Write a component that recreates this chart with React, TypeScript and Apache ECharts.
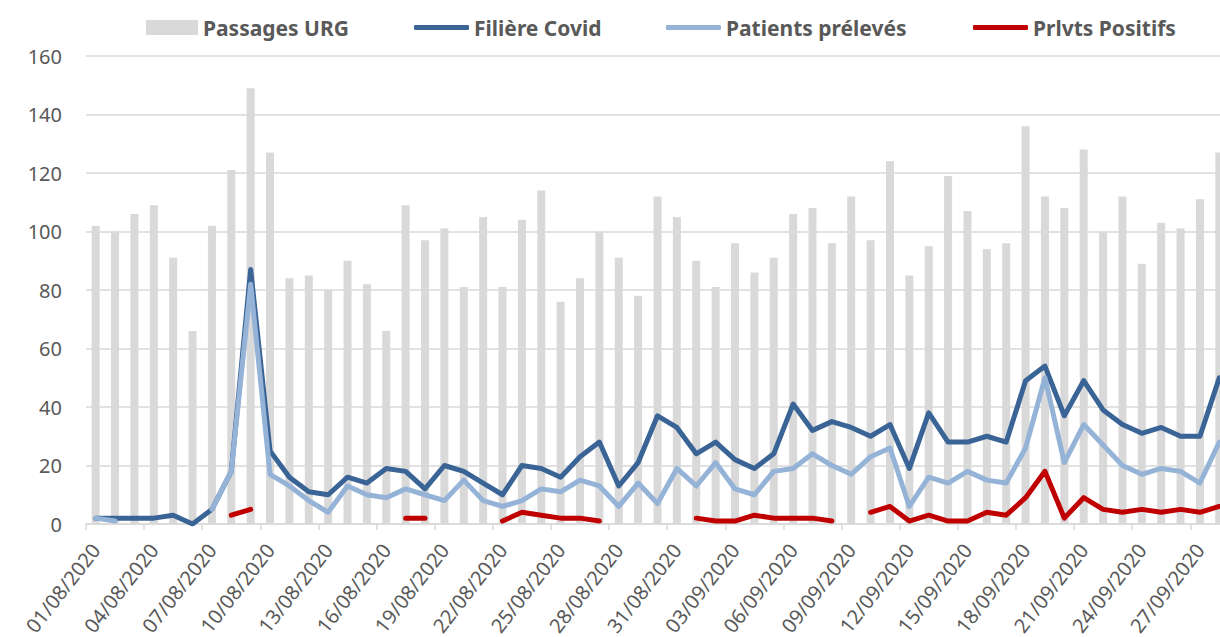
import React, { useEffect, useRef } from "react";
import * as echarts from "echarts";

const categories = [
  "01/08/2020", "02/08/2020", "03/08/2020", "04/08/2020", "05/08/2020", "06/08/2020", "07/08/2020",
  "08/08/2020", "09/08/2020", "10/08/2020", "11/08/2020", "12/08/2020", "13/08/2020", "14/08/2020",
  "15/08/2020", "16/08/2020", "17/08/2020", "18/08/2020", "19/08/2020", "20/08/2020", "21/08/2020",
  "22/08/2020", "23/08/2020", "24/08/2020", "25/08/2020", "26/08/2020", "27/08/2020", "28/08/2020",
  "29/08/2020", "30/08/2020", "31/08/2020", "01/09/2020", "02/09/2020", "03/09/2020", "04/09/2020",
  "05/09/2020", "06/09/2020", "07/09/2020", "08/09/2020", "09/09/2020", "10/09/2020", "11/09/2020",
  "12/09/2020", "13/09/2020", "14/09/2020", "15/09/2020", "16/09/2020", "17/09/2020", "18/09/2020",
  "19/09/2020", "20/09/2020", "21/09/2020", "22/09/2020", "23/09/2020", "24/09/2020", "25/09/2020",
  "26/09/2020", "27/09/2020", "28/09/2020",
];

const passagesURG = [
  102, 100, 106, 109, 91, 66, 102, 121, 149, 127,
  84, 85, 80, 90, 82, 66, 109, 97, 101, 81,
  105, 81, 104, 114, 76, 84, 100, 91, 78, 112,
  105, 90, 81, 96, 86, 91, 106, 108, 96, 112,
  97, 124, 85, 95, 119, 107, 94, 96, 136, 112,
  108, 128, 100, 112, 89, 103, 101, 111, 127,
];

const filiereCovid = [
  2, 2, 2, 2, 3, 0, 5, 18, 87, 25,
  16, 11, 10, 16, 14, 19, 18, 12, 20, 18,
  14, 10, 20, 19, 16, 23, 28, 13, 21, 37,
  33, 24, 28, 22, 19, 24, 41, 32, 35, 33,
  30, 34, 19, 38, 28, 28, 30, 28, 49, 54,
  37, 49, 39, 34, 31, 33, 30, 30, 50,
];

const patientsPreleves = [
  2, 1, null, null, null, null, 5, 18, 82, 17,
  13, 8, 4, 13, 10, 9, 12, 10, 8, 15,
  8, 6, 8, 12, 11, 15, 13, 6, 14, 7,
  19, 13, 21, 12, 10, 18, 19, 24, 20, 17,
  23, 26, 6, 16, 14, 18, 15, 14, 26, 50,
  21, 34, 27, 20, 17, 19, 18, 14, 28,
];

const prlvtsPositifs = [
  null, null, null, null, null, null, null, 3, 5, null,
  null, null, null, null, null, null, 2, 2, null, null,
  null, 1, 4, 3, 2, 2, 1, null, null, null,
  null, 2, 1, 1, 3, 2, 2, 2, 1, null,
  4, 6, 1, 3, 1, 1, 4, 3, 9, 18,
  2, 9, 5, 4, 5, 4, 5, 4, 6,
];

const yTicks = { min: 0, max: 160, interval: 20 };

const FONT = "'Noto Sans', 'DejaVu Sans', sans-serif";
const TEXT = "#595959";
const GRID = "#d9d9d9";

export default function App() {
  const ref = useRef<HTMLDivElement>(null);

  useEffect(() => {
    document.body.style.margin = "0";
    if (!ref.current) return;
    const chart = echarts.init(ref.current, undefined, { renderer: "svg" });

    const legendText = { color: TEXT, fontSize: 21, fontWeight: "bold" as const, fontFamily: FONT };
    const mkLegend = (name: string, left: number, color: string, isBar: boolean) => ({
      left,
      top: 12,
      itemWidth: isBar ? 52 : 55,
      itemHeight: isBar ? 15 : 5,
      itemGap: 0,
      textStyle: legendText,
      data: [{ name, icon: isBar ? "rect" : "roundRect", itemStyle: { color } }],
      selectedMode: false,
    });

    const lineSeries = (name: string, data: (number | null)[], color: string, z: number) => ({
      name,
      type: "line",
      data,
      symbol: "none",
      showSymbol: false,
      connectNulls: false,
      z,
      itemStyle: { color },
      lineStyle: { color, width: 5, cap: "round", join: "round" },
    });

    chart.setOption({
      animation: false,
      backgroundColor: "#ffffff",
      textStyle: { fontFamily: FONT },
      legend: [
        mkLegend("Passages URG", 141, GRID, true),
        mkLegend("Filière Covid", 409, "#3a6396", false),
        mkLegend("Patients prélevés", 661, "#95b3d7", false),
        mkLegend("Prlvts Positifs", 968, "#c00000", false),
      ],
      grid: {
        left: 86,
        top: 56,
        bottom: 113,
        right: -9,
        containLabel: false,
        outerBoundsMode: "none",
      },
      xAxis: {
        type: "category",
        data: categories,
        boundaryGap: true,
        axisLine: { show: true, lineStyle: { color: GRID, width: 1.5 } },
        axisTick: { show: true, interval: 2, length: 6, lineStyle: { color: GRID, width: 1.5 } },
        axisLabel: {
          interval: 2,
          rotate: 52,
          margin: 22,
          color: TEXT,
          fontSize: 20,
          fontFamily: FONT,
        },
        splitLine: { show: false },
      },
      yAxis: {
        type: "value",
        min: yTicks.min,
        max: yTicks.max,
        interval: yTicks.interval,
        axisLine: { show: false },
        axisTick: { show: false },
        axisLabel: { color: TEXT, fontSize: 20, margin: 24, fontFamily: FONT },
        splitLine: { show: true, lineStyle: { color: GRID, width: 1.5 } },
      },
      series: [
        {
          name: "Passages URG",
          type: "bar",
          data: passagesURG,
          barWidth: 8,
          itemStyle: { color: GRID },
          z: 1,
        },
        lineSeries("Filière Covid", filiereCovid, "#3a6396", 3),
        lineSeries("Patients prélevés", patientsPreleves, "#95b3d7", 4),
        lineSeries("Prlvts Positifs", prlvtsPositifs, "#c00000", 5),
      ],
    });

    return () => chart.dispose();
  }, []);

  return (
    <div
      ref={ref}
      style={{ position: "fixed", left: 0, top: 0, width: 1220, height: 637, background: "#fff" }}
    />
  );
}
